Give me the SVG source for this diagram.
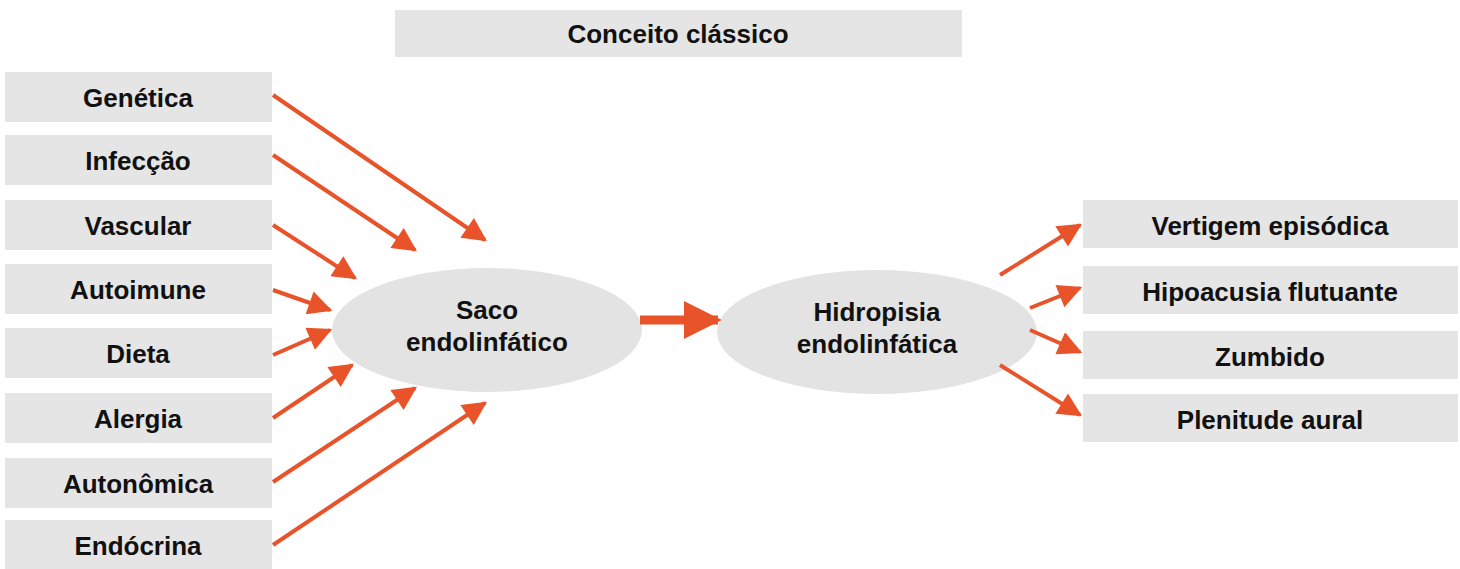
<svg xmlns="http://www.w3.org/2000/svg" width="1460" height="569" viewBox="0 0 1460 569">
<style>
.b{fill:#e5e5e5}
.e{fill:#e3e3e3}
text{font-family:"Liberation Sans",Arial,sans-serif;font-weight:bold;font-size:26px;fill:#111;text-anchor:middle}
.c line{stroke:#e8532a;stroke-width:4;marker-end:url(#a)}
</style>
<defs><marker id="a" viewBox="0 0 10 10" refX="9" refY="5" markerWidth="7" markerHeight="6" markerUnits="strokeWidth" orient="auto"><path d="M0,0L10,5L0,10z" fill="#e8532a"/></marker>
<marker id="m" viewBox="0 0 10 10" refX="9" refY="5" markerWidth="5.5" markerHeight="4.2" markerUnits="strokeWidth" orient="auto"><path d="M0,0L10,5L0,10z" fill="#e8532a"/></marker></defs>
<rect width="1460" height="569" fill="#fff"/>
<g id="title"><rect class="b" x="395" y="10" width="567" height="47"/><text x="678" y="43">Conceito clássico</text></g>
<g id="n1"><rect class="b" x="5" y="72" width="267" height="50"/><text x="138" y="107">Genética</text></g>
<g id="n2"><rect class="b" x="5" y="135" width="267" height="50"/><text x="138" y="170">Infecção</text></g>
<g id="n3"><rect class="b" x="5" y="200" width="267" height="50"/><text x="138" y="235">Vascular</text></g>
<g id="n4"><rect class="b" x="5" y="264" width="267" height="50"/><text x="138" y="299">Autoimune</text></g>
<g id="n5"><rect class="b" x="5" y="328" width="267" height="50"/><text x="138" y="363">Dieta</text></g>
<g id="n6"><rect class="b" x="5" y="393" width="267" height="50"/><text x="138" y="428">Alergia</text></g>
<g id="n7"><rect class="b" x="5" y="458" width="267" height="50"/><text x="138" y="493">Autonômica</text></g>
<g id="n8"><rect class="b" x="5" y="520" width="267" height="49"/><text x="138" y="555">Endócrina</text></g>
<g id="saco"><ellipse class="e" cx="487" cy="330" rx="155" ry="62"/><text x="487" y="319">Saco</text><text x="487" y="351">endolinfático</text></g>
<g id="hidro"><ellipse class="e" cx="877" cy="332" rx="160" ry="62"/><text x="877" y="321">Hidropisia</text><text x="877" y="353">endolinfática</text></g>
<g id="r1"><rect class="b" x="1083" y="200" width="375" height="48"/><text x="1270" y="235">Vertigem episódica</text></g>
<g id="r2"><rect class="b" x="1083" y="266" width="375" height="48"/><text x="1270" y="301">Hipoacusia flutuante</text></g>
<g id="r3"><rect class="b" x="1083" y="331" width="375" height="48"/><text x="1270" y="366">Zumbido</text></g>
<g id="r4"><rect class="b" x="1083" y="394" width="375" height="48"/><text x="1270" y="429">Plenitude aural</text></g>
<g class="c">
<line x1="273" y1="95" x2="485" y2="240"/>
<line x1="273" y1="155" x2="415" y2="250"/>
<line x1="273" y1="225" x2="355" y2="278"/>
<line x1="273" y1="290" x2="330" y2="310"/>
<line x1="273" y1="355" x2="330" y2="330"/>
<line x1="273" y1="418" x2="352" y2="365"/>
<line x1="273" y1="482" x2="415" y2="388"/>
<line x1="273" y1="545" x2="485" y2="403"/>
<line x1="640" y1="320" x2="718" y2="320" style="stroke-width:9;marker-end:url(#m)"/>
<line x1="1000" y1="275" x2="1080" y2="225"/>
<line x1="1030" y1="308" x2="1080" y2="288"/>
<line x1="1030" y1="330" x2="1080" y2="352"/>
<line x1="1000" y1="365" x2="1080" y2="415"/>
</g>
</svg>
